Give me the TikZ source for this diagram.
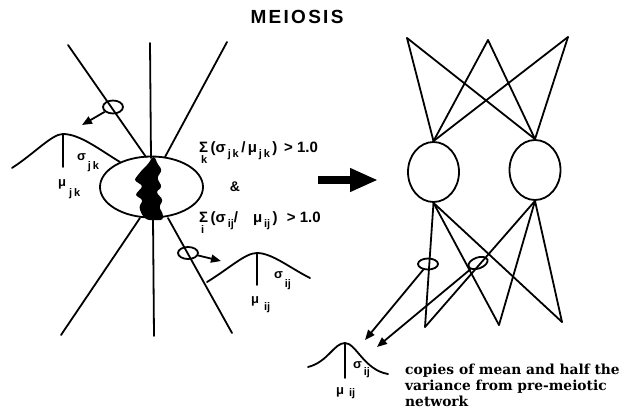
\documentclass[tikz,border=0pt]{standalone}
\usepackage{fontspec}
\setmainfont{Liberation Sans}
\newfontfamily\titlefont[LetterSpace=12]{Liberation Sans}
\newfontfamily\notefont{DejaVu Serif}
\usetikzlibrary{arrows.meta,shapes.geometric}
\newcommand\lsub[2][4pt]{\raisebox{-#1}{\fontsize{11}{11}\selectfont #2}}
\newcommand\sigunder[1]{\makebox[0pt][l]{\hspace{2pt}\raisebox{-11pt}{\fontsize{11}{11}\selectfont #1}}Σ}
\tikzset{
  ln/.style={line width=1.8pt, line cap=round},
  arr/.style={line width=1.8pt, -{Triangle[length=10pt,width=8pt]}},
  lab/.style={inner sep=0pt, font=\bfseries\fontsize{13}{13}\selectfont},
  eqn/.style={inner sep=0pt, anchor=base west, font=\bfseries\fontsize{15}{15}\selectfont},
}
\begin{document}
\begin{tikzpicture}[x=1pt,y=-1pt]
\useasboundingbox (0,0) rectangle (629,412);
% title
\node[inner sep=0pt, font=\titlefont\bfseries\fontsize{19}{19}\selectfont] (title) at (297,17) {MEIOSIS};

% ---------- left: pre-meiotic node ----------
\coordinate (tl) at (68,45);
\coordinate (tv) at (150,43);
\coordinate (tr) at (227,42);
\coordinate (bl) at (61,335);
\coordinate (bv) at (154,336);
\coordinate (br) at (232,333);
\coordinate (etl) at (146,157);
\coordinate (etr) at (165,157);
\coordinate (ebl) at (140,218);
\coordinate (ebr) at (168,218);
\draw[ln] (tl) -- (etl);
\draw[ln] (tr) -- (etr);
\draw[ln] (tv) -- (151,158);
\draw[ln] (ebl) -- (bl);
\draw[ln] (ebr) -- (br);
\draw[ln] (153,218) -- (bv);
\node[ln, draw, ellipse, minimum width=103pt, minimum height=61pt, inner sep=0pt] (cell) at (151.5,187) {};
% black chromatin
\fill[rounded corners=2.5pt] (152,157) -- (149,163) -- (142,170) -- (134,180) -- (143,186) -- (135,195) -- (143,200)
  -- (139,207) -- (142,215) -- (147,220) -- (163,220) -- (163,214) -- (159,207) -- (163,200)
  -- (156,192) -- (162,187) -- (157,178) -- (162,170) -- (157,163) -- (155,157) -- cycle;

% upper-left weight with hump
\node[ln, draw, ellipse, minimum width=20pt, minimum height=13pt, inner sep=0pt] (w1) at (113,107) {};
\coordinate (w1t) at (82,125);
\draw[arr] (w1) -- (w1t);
\draw[ln] (12,168) .. controls (35,153) and (52,134) .. (63,134) .. controls (80,134) and (100,150) .. (120,162);
\draw[ln] (63,134) -- (63,167);
\node[lab, anchor=base west] (sjk) at (77,160) {σ\lsub[9pt]{\,j\,k}};
\node[lab, anchor=base west] (mjk) at (58,186) {μ\lsub[10pt]{\;j\,k}};

% lower-right weight with hump
\node[ln, draw, ellipse, minimum width=20pt, minimum height=12pt, inner sep=0pt] (w2) at (188,253) {};
\coordinate (w2t) at (221,261);
\draw[arr] (w2) -- (w2t);
\draw[ln] (207,282) .. controls (230,268) and (245,253) .. (257,253) .. controls (272,253) and (290,268) .. (310,278);
\draw[ln] (257,253) -- (257,285);
\node[lab, anchor=base west] (sij) at (274,278) {σ\lsub[9pt]{\,ij}};
\node[lab, anchor=base west] (mij) at (251,303) {μ\lsub[7pt]{\;\,ij}};

% criteria
\node[eqn] (c1) at (199,152) {\sigunder{k}\,(σ\lsub[5pt]{\,j\,k}\,/\,μ\lsub[5pt]{\,j\,k}\,)\, > 1.0};
\node[lab, font=\bfseries\fontsize{14}{14}\selectfont] (amp) at (235,187) {\&};
\node[eqn] (c2) at (199,222) {\sigunder{i}\,(σ\lsub[5pt]{\,ij}/\quad μ\lsub[5pt]{\,ij}\,)\,\, > 1.0};

% big arrow
\coordinate (ba1) at (318,180);
\coordinate (ba2) at (378,180);
\draw[line width=8pt, -{Triangle[length=28pt,width=22pt]}] (ba1) -- (ba2);

% ---------- right: two daughter nodes ----------
\coordinate (t1) at (407,38);
\coordinate (t2) at (488,40);
\coordinate (t3) at (568,37);
\coordinate (b1) at (425,327);
\coordinate (b2) at (499,325);
\coordinate (b3) at (562,322);
\node[ln, draw, ellipse, minimum width=51pt, minimum height=60pt, inner sep=0pt] (n1) at (433.5,172) {};
\node[ln, draw, ellipse, minimum width=51pt, minimum height=60pt, inner sep=0pt] (n2) at (535,170) {};
\foreach \t in {t1,t2,t3} {
  \draw[ln] (\t) -- (n1.north);
  \draw[ln] (\t) -- (n2.north);
}
\foreach \b in {b1,b2,b3} {
  \draw[ln] (n1.south) -- (\b);
  \draw[ln] (n2.south) -- (\b);
}
\node[ln, draw, ellipse, minimum width=20pt, minimum height=11pt, inner sep=0pt] (w3) at (428,264) {};
\node[ln, draw, ellipse, minimum width=20pt, minimum height=11pt, inner sep=0pt, rotate=20] (w4) at (478,263) {};
\coordinate (g1) at (365,340);
\coordinate (g2) at (377,347);
\draw[arr] (w3) -- (g1);
\draw[arr] (w4) -- (g2);

% gaussian copy
\draw[ln] (308,367) .. controls (328,362) and (334,343) .. (345,343) .. controls (356,343) and (364,370) .. (388,374);
\draw[ln] (345,343) -- (345,378);
\node[lab, anchor=base west] (sij2) at (353,368) {σ\lsub[7pt]{\,ij}};
\node[lab, anchor=base west] (mij2) at (336,394) {μ\lsub[2pt]{\;\,ij}};
\node[inner sep=0pt, anchor=north west, align=left, font=\notefont\bfseries\fontsize{13.8}{16}\selectfont] (note) at (405,364)
  {copies of mean and half the\\variance from pre-meiotic\\network};
\end{tikzpicture}
\end{document}
